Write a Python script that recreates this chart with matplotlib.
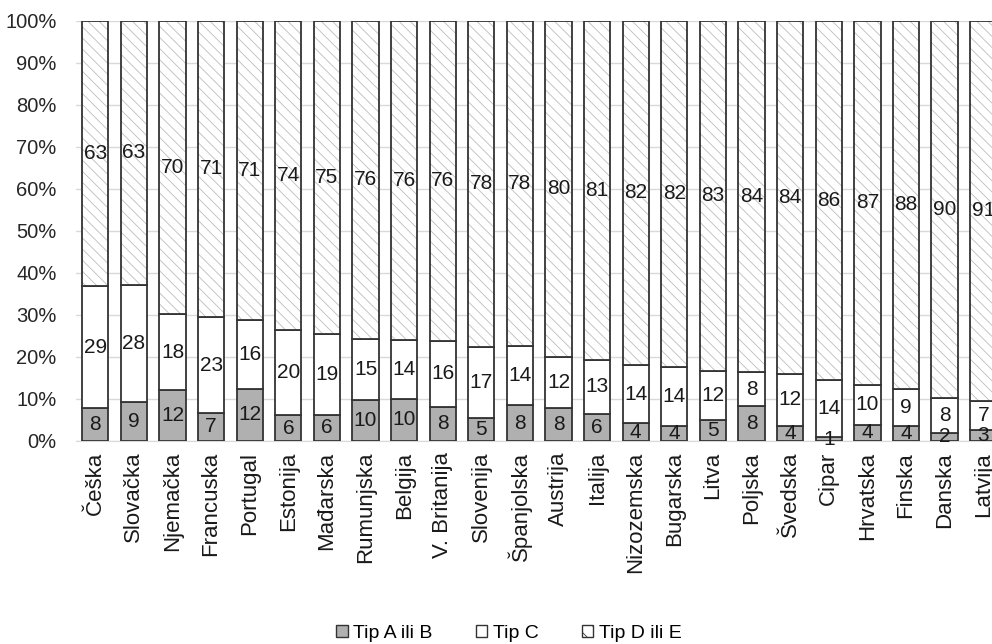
"""Stacked 100% bars: tip A/B, C, D/E by country"""
import matplotlib
matplotlib.use("Agg")
from matplotlib import pyplot as plt
from matplotlib.patches import Patch

plt.rcParams['font.family'] = ['Liberation Sans', 'DejaVu Sans']
plt.rcParams['hatch.linewidth'] = 0.6

countries = ["Češka", "Slovačka", "Njemačka", "Francuska", "Portugal", "Estonija",
             "Mađarska", "Rumunjska", "Belgija", "V. Britanija", "Slovenija",
             "Španjolska", "Austrija", "Italija", "Nizozemska", "Bugarska", "Litva",
             "Poljska", "Švedska", "Cipar", "Hrvatska", "Finska", "Danska", "Latvija"]

tip_ab = [7.8, 9.3, 12.0, 6.6, 12.4, 6.0, 6.2, 9.6, 9.9, 8.1, 5.4, 8.4,
          7.8, 6.4, 4.1, 3.6, 4.9, 8.2, 3.5, 0.8, 3.7, 3.6, 1.9, 2.6]
tip_c = [29.0, 27.7, 18.2, 22.8, 16.3, 20.3, 19.1, 14.7, 14.1, 15.6, 17.0, 14.1,
         12.1, 12.9, 14.0, 14.0, 11.8, 8.2, 12.4, 13.6, 9.6, 8.7, 8.2, 6.8]
tip_de = [63.2, 63.0, 69.8, 70.6, 71.3, 73.7, 74.7, 75.7, 76.0, 76.3, 77.6, 77.5,
          80.1, 80.7, 81.9, 82.4, 83.3, 83.6, 84.1, 85.6, 86.7, 87.7, 89.9, 90.6]

gray = '#b0b0b0'
edge = '#333333'

fig = plt.figure(figsize=(9.92, 6.44), dpi=100)
ax = fig.add_axes([0.0766, 0.3157, 0.934, 0.6522])

x = range(len(countries))
w = 0.68
bottom_c = tip_ab
bottom_de = [a + c for a, c in zip(tip_ab, tip_c)]

b1 = ax.bar(x, tip_ab, w, color=gray, edgecolor=edge, linewidth=1.3, zorder=3)
b2 = ax.bar(x, tip_c, w, bottom=bottom_c, color='white', edgecolor=edge,
            linewidth=1.3, zorder=3)
# hatch drawn in light gray, outline drawn on top in dark
ax.bar(x, tip_de, w, bottom=bottom_de, color='white', edgecolor='#bdbdbd',
       hatch='\\\\\\', linewidth=0, zorder=3)
b3 = ax.bar(x, tip_de, w, bottom=bottom_de, facecolor='none', edgecolor=edge,
            linewidth=1.3, zorder=4)

for bars in (b1, b2, b3):
    ax.bar_label(bars, fmt='%.0f', label_type='center', fontsize=15,
                 color='#1a1a1a', zorder=5)

ax.set_xlim(-0.5, len(countries) - 0.5)
ax.set_ylim(0, 100)
ax.set_yticks(range(0, 101, 10))
ax.set_yticklabels([f"{v}%" for v in range(0, 101, 10)], fontsize=14.5, color='#262626')
ax.set_xticks(list(x))
ax.set_xticklabels(countries, rotation=90, fontsize=16, color='#1a1a1a')
ax.tick_params(length=0, pad=8)
ax.tick_params(axis='y', pad=14)
ax.grid(axis='y', color='#d9d9d9', linewidth=1, zorder=0)
for s in ('top', 'right', 'left'):
    ax.spines[s].set_visible(False)
ax.spines['bottom'].set_color('#d9d9d9')

handles = [Patch(facecolor=gray, edgecolor=edge, label='Tip A ili B'),
           Patch(facecolor='white', edgecolor=edge, label='Tip C'),
           Patch(facecolor='white', edgecolor=edge, hatch='\\\\', label='Tip D ili E')]
fig.legend(handles=handles, loc='center', bbox_to_anchor=(0.513, 0.017), ncol=3,
           frameon=False, fontsize=14, handlelength=0.6, handleheight=0.6,
           handletextpad=0.3, columnspacing=2.2)

fig.savefig('out.png', dpi=100)
